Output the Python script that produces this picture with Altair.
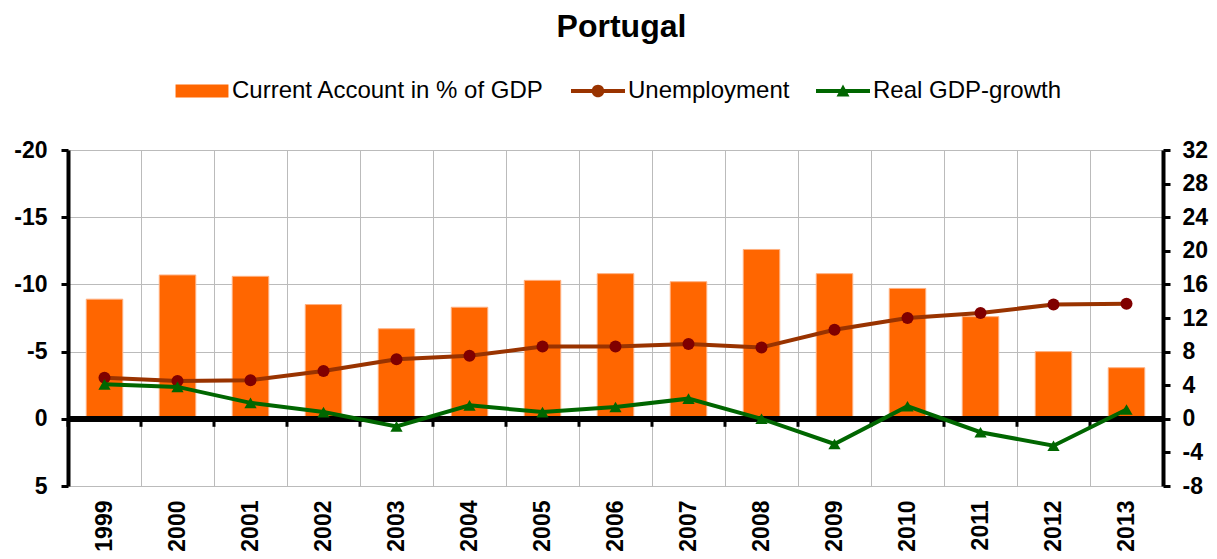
import altair as alt
import pandas as pd

years = [str(y) for y in range(1999, 2014)]
current_account = [-8.9, -10.7, -10.6, -8.5, -6.7, -8.3, -10.3, -10.8, -10.2, -12.6, -10.8, -9.7, -7.6, -5.0, -3.8]
unemployment = [4.9, 4.5, 4.6, 5.7, 7.1, 7.5, 8.6, 8.6, 8.9, 8.5, 10.6, 12.0, 12.6, 13.6, 13.7]
gdp_growth = [4.1, 3.8, 1.9, 0.8, -0.9, 1.6, 0.8, 1.4, 2.4, 0.0, -3.0, 1.5, -1.6, -3.2, 1.1]

series = ["Current Account in % of GDP", "Unemployment", "Real GDP-growth"]
colors = ["#FF6600", "#993300", "#006600"]
left_ticks = [-20, -15, -10, -5, 0, 5]
right_ticks = [-8, -4, 0, 4, 8, 12, 16, 20, 24, 28, 32]

# legend symbols (unit box -1..1)
legend_paths = [
    "M-0.98,-0.24H0.98V0.24H-0.98Z",
    "M-1,-0.075H1V0.075H-1Z M0.235,0A0.235,0.235,0,1,1,-0.235,0A0.235,0.235,0,1,1,0.235,0Z",
    "M-1,-0.075H1V0.075H-1Z M0,-0.24L0.24,0.2L-0.24,0.2Z",
]

df = pd.DataFrame({"year": years, "ca": current_account,
                   "unemp": unemployment, "gdp": gdp_growth})
legend_df = pd.DataFrame({"series": series})

FONT = "Liberation Sans"
GRID = "#BBBBBB"
AX_FS = 23

x_axis = alt.Axis(labelAngle=-90, labelFontSize=AX_FS, labelFontWeight="bold",
                  labelFont=FONT, labelColor="black", labelPadding=14,
                  domain=False, ticks=False, grid=True, gridColor=GRID,
                  gridWidth=1, tickBand="extent")
x_enc = alt.X("year:O", title=None,
              scale=alt.Scale(paddingInner=0, paddingOuter=0), axis=x_axis)

left_axis = alt.Axis(values=left_ticks, labelFontSize=AX_FS, labelFontWeight="bold",
                     labelFont=FONT, labelColor="black", labelPadding=14,
                     labelExpr="'' + datum.value",
                     domainColor="black", domainWidth=4, tickColor="black",
                     tickWidth=3, tickSize=7, grid=True, gridColor=GRID, gridWidth=1)
left_scale = alt.Scale(domain=[-20, 5], reverse=True, nice=False, zero=False)

right_axis = alt.Axis(values=right_ticks, orient="right", labelFontSize=AX_FS,
                      labelFontWeight="bold", labelFont=FONT, labelColor="black",
                      labelPadding=12, labelExpr="'' + datum.value",
                      domainColor="black", domainWidth=4, tickColor="black",
                      tickWidth=3, tickSize=7, grid=False)
right_scale = alt.Scale(domain=[-8, 32], nice=False, zero=False)

base = alt.Chart(df)

bars = base.mark_bar(color="#FF6600", stroke="#FFB080", strokeWidth=1,
                     width=alt.RelativeBandSize(0.5)).encode(
    x=x_enc,
    y=alt.Y("ca:Q", title=None, scale=left_scale, axis=left_axis),
    y2=alt.datum(0),
)

zero_line = base.mark_rule(color="black", strokeWidth=5).encode(
    y=alt.datum(0)
)

zero_ticks = base.mark_rule(color="black", strokeWidth=3, y2Offset=8).encode(
    x=alt.X("year:O", bandPosition=0),
    y=alt.datum(0),
    y2=alt.datum(0),
)

left = alt.layer(bars, zero_line, zero_ticks)

y_right = alt.Y("unemp:Q", title=None, scale=right_scale, axis=right_axis)

unemp_line = base.mark_line(color="#993300", strokeWidth=4).encode(x=x_enc, y=y_right)
unemp_pts = base.mark_point(filled=True, color="#800000", size=144, shape="circle",
                            opacity=1).encode(x=x_enc, y=y_right)
y_gdp = alt.Y("gdp:Q", title=None, scale=right_scale, axis=right_axis)
gdp_line = base.mark_line(color="#006600", strokeWidth=4).encode(x=x_enc, y=y_gdp)
gdp_pts = base.mark_point(filled=True, color="#006600", size=150, shape="triangle-up",
                          opacity=1).encode(x=x_enc, y=y_gdp)

legend_props = dict(orient="none", legendX=107, legendY=-86,
                    direction="horizontal", title=None,
                    symbolSize=2916, labelFontSize=24,
                    labelFont=FONT, labelColor="black", labelLimit=0,
                    labelOffset=3, columnPadding=26,
                    symbolStrokeWidth=0, padding=0, symbolOpacity=1)

legend_layer = alt.Chart(legend_df).transform_filter("false").mark_point(
    filled=True, opacity=1).encode(
    color=alt.Color("series:N", scale=alt.Scale(domain=series, range=colors),
                    legend=alt.Legend(**legend_props)),
    shape=alt.Shape("series:N", scale=alt.Scale(domain=series, range=legend_paths),
                    legend=alt.Legend(**legend_props)),
)

right = alt.layer(unemp_line, unemp_pts, gdp_line, gdp_pts, legend_layer)

chart = alt.layer(left, right).resolve_scale(y="independent").properties(
    width=1095, height=336,
    title=alt.TitleParams("Portugal", fontSize=32, font=FONT, fontWeight="bold",
                          anchor="middle", color="black", offset=20, dx=6),
    autosize=alt.AutoSizeParams(type="none"),
    padding={"left": 60, "top": 142, "right": 46, "bottom": 65},
).configure_view(stroke=None)

chart.save("out.html", embed_options={"renderer": "svg", "actions": False})
